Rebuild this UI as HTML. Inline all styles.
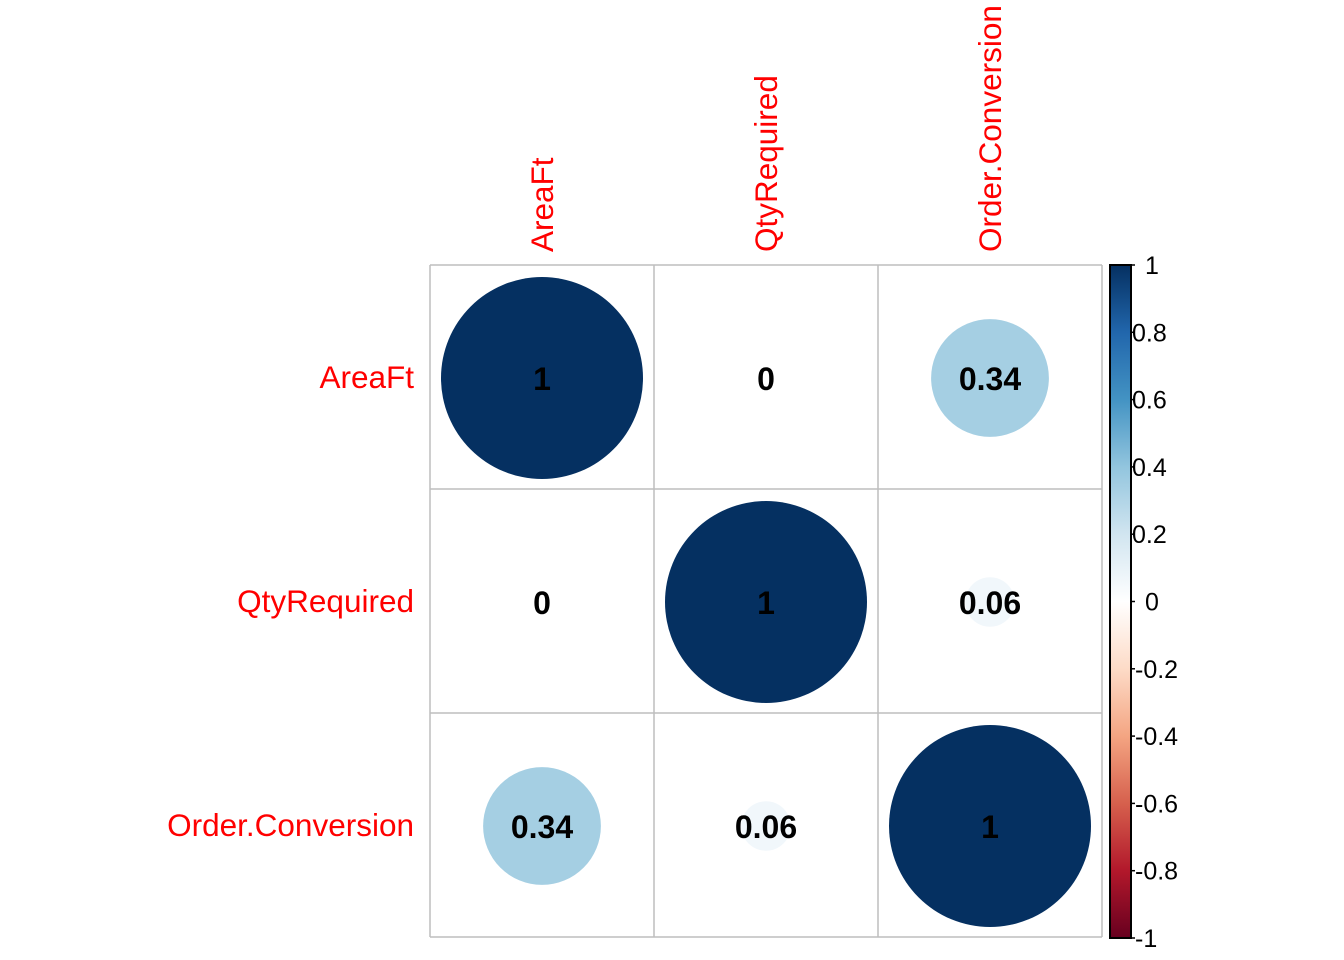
<!DOCTYPE html>
<html><head><meta charset="utf-8"><style>
body{margin:0;background:#fff;}
svg{display:block;font-family:"Liberation Sans",Arial,sans-serif;}
</style></head><body>
<svg id="chart" width="1344" height="960"></svg>
<script>
const variables = ["AreaFt","QtyRequired","Order.Conversion"];
const corrRow0 = [1, 0, 0.34];
const corrRow1 = [0, 1, 0.06];
const corrRow2 = [0.34, 0.06, 1];
const corrValues = [corrRow0, corrRow1, corrRow2];
const colorbarTicks = [1,0.8,0.6,0.4,0.2,0,-0.2,-0.4,-0.6,-0.8,-1];
const palette = ["#67001F","#B2182B","#D6604D","#F4A582","#FDDBC7","#FFFFFF","#D1E5F0","#92C5DE","#4393C3","#2166AC","#053061"];

const NS="http://www.w3.org/2000/svg";
const svg=document.getElementById('chart');
function mk(tag,attrs,parent){const e=document.createElementNS(NS,tag);for(const k in attrs)e.setAttribute(k,attrs[k]);(parent||svg).appendChild(e);return e;}
const x0=430,y0=265,cell=224,n=variables.length;
const cx=i=>x0+cell*i+cell/2, cy=j=>y0+cell*j+cell/2;
function hex2rgb(h){return [1,3,5].map(i=>parseInt(h.substr(i,2),16));}
function colorOf(v){const t=(v+1)/2*(palette.length-1);const i=Math.min(Math.floor(t),palette.length-2);const f=t-i;
 const a=hex2rgb(palette[i]),b=hex2rgb(palette[i+1]);return 'rgb('+a.map((c,k)=>Math.round(c+(b[k]-c)*f)).join(',')+')';}

for(let k=0;k<=n;k++){
 let l=mk('line',{x1:x0+cell*k,y1:y0,x2:x0+cell*k,y2:y0+cell*n,stroke:'#bebebe','stroke-width':1.5});
 
 
 l=mk('line',{x1:x0,y1:y0+cell*k,x2:x0+cell*n,y2:y0+cell*k,stroke:'#bebebe','stroke-width':1.5});
 
 
}
const R=101;
for(let j=0;j<n;j++)for(let i=0;i<n;i++){
 const v=corrValues[j][i];
 const c=mk('circle',{cx:cx(i),cy:cy(j)+1,r:R*Math.sqrt(Math.abs(v)),fill:colorOf(v)});
 
 
 const t=mk('text',{x:cx(i),y:cy(j)+13,'text-anchor':'middle','font-size':32,'font-weight':'bold',fill:'#000'});
 t.textContent=String(v);
 
 
}
variables.forEach((v,i)=>{
 const t=mk('text',{x:414,y:cy(i)+11,'text-anchor':'end','font-size':31.5,fill:'#ff0000'});
 t.textContent=v;
 
 
 const t2=mk('text',{x:0,y:0,transform:'translate('+(cx(i)+11)+',252) rotate(-90)','font-size':31.5,fill:'#ff0000'});
 t2.textContent=v;
 
 
});
const bx=1110,bw=21,by0=265,by1=938;
const defs=mk('defs',{});
const grad=mk('linearGradient',{id:'cb',x1:0,y1:1,x2:0,y2:0},defs);
palette.forEach((c,i)=>mk('stop',{offset:i/(palette.length-1),'stop-color':c},grad));
const bar=mk('rect',{x:bx,y:by0,width:bw,height:by1-by0,fill:'url(#cb)',stroke:'#000','stroke-width':2});


const ty=v=>by0+(1-v)/2*(by1-by0);
colorbarTicks.forEach(v=>{
 const l=mk('line',{x1:bx+bw,y1:ty(v),x2:bx+bw+4,y2:ty(v),stroke:'#000','stroke-width':1.5});
 
 
 const t=mk('text',{x:bx+bw+(v<0?4:(v===0||v===1?14:1)),y:ty(v)+9,'font-size':25,fill:'#000'});
 t.textContent=String(v);
 
 
});
</script>
</body></html>
